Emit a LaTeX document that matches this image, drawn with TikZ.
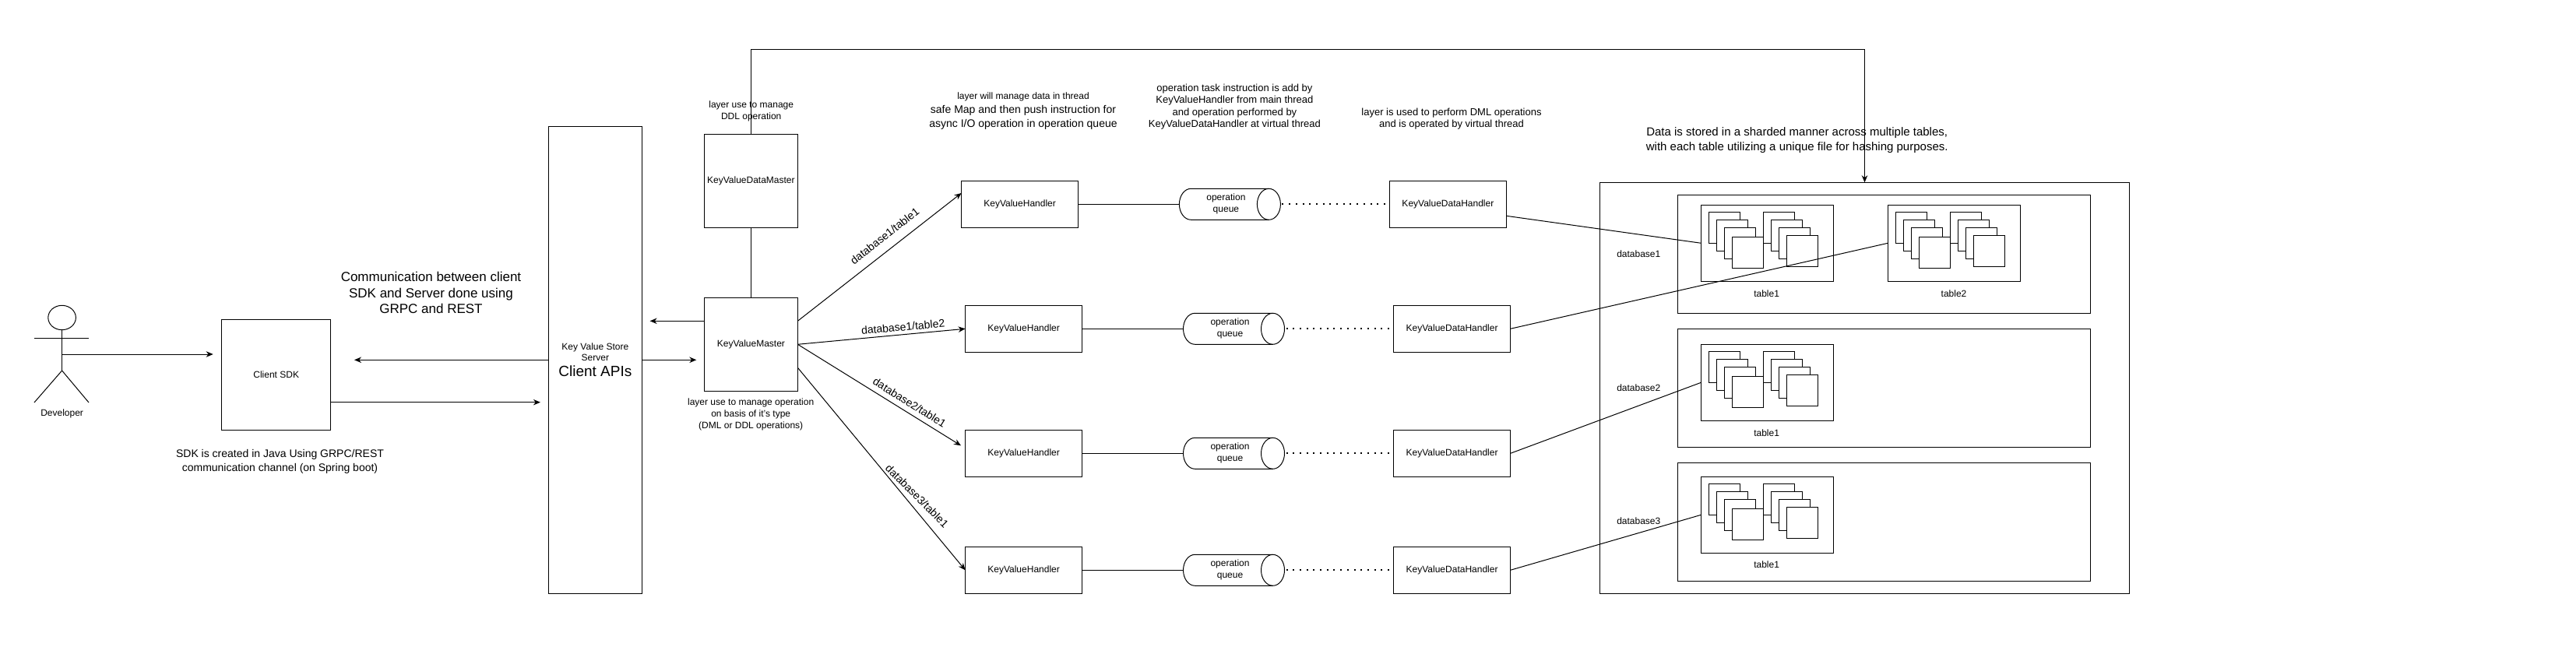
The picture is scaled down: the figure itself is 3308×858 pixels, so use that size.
\documentclass[tikz,border=0pt]{standalone}
\usepackage{fontspec}
\setmainfont{Liberation Sans}
\usetikzlibrary{arrows.meta}
\tikzset{
	  conn/.style={line width=1pt},
	  flow/.style={conn, -{Stealth[length=9pt,width=7.5pt]}},
	  dots/.style={line width=2pt, dash pattern=on 2pt off 6.7pt},
	  box/.style={draw, line width=1pt, fill=white, inner sep=0pt, outer sep=0pt, align=center, font=\fontsize{12}{14}\selectfont},
	  handlerbox/.style={box, minimum width=150pt, minimum height=60pt},
	  masterbox/.style={box, minimum width=120pt, minimum height=120pt},
	  dbbox/.style={box, minimum width=530pt, minimum height=152pt},
	  tablebox/.style={box, minimum width=170pt, minimum height=98pt},
	  filebox/.style={box, anchor=north west, minimum width=40pt, minimum height=40pt},
	  queue/.style={inner sep=0pt, outer sep=0pt, minimum width=130pt, minimum height=40pt},
	  capend/.style={x radius=15pt, y radius=20pt},
	  note/.style={inner sep=0pt, align=center, font=\fontsize{12}{15}\selectfont},
	  midnote/.style={inner sep=0pt, align=center, font=\fontsize{13}{15.6}\selectfont},
	  bignote/.style={inner sep=0pt, align=center, font=\fontsize{14}{18}\selectfont},
	  edgenote/.style={inner sep=0pt, font=\fontsize{14}{16}\selectfont}
}
\newcommand{\queueoutline}[1]{
	  \draw [conn] ([xshift=15pt]#1.north west)--([xshift=-15pt]#1.north east)
	    arc [start angle=90, end angle=-90, capend]
	    --([xshift=15pt]#1.south west)
	    arc [start angle=270, end angle=90, capend];
	  \draw [conn] ([xshift=-15pt]#1.north east) arc [start angle=90, end angle=270, capend];
}
\begin{document}
\begin{tikzpicture}[x=1pt,y=-1pt]
	  \useasboundingbox (0,0) rectangle (3308,858);

	  \draw [conn] (79.6,408) ellipse [x radius=17.8, y radius=15.7];
	  \draw [conn] (44,434)--(114,434);
	  \draw [conn] (79.6,424)--(79.6,476);
	  \draw [conn] (44,517)--(79.6,476)--(114,517);
	  \node [note] (developer) at (79.6,531) {Developer};
	  \coordinate (devarm) at (79.6,455);

	  \node [box, minimum width=140pt, minimum height=142pt] (clientsdk) at (354.7,481) {Client SDK};
	  \node [box, minimum width=120pt, minimum height=600pt] (clientapi) at (764.4,462.3)
	    {Key Value Store\\Server\\[6pt]{\fontsize{19}{22}\selectfont Client APIs}};
	  \node [masterbox] (datamaster) at (964.4,232.3) {KeyValueDataMaster};
	  \node [masterbox] (master) at (964.4,442.3) {KeyValueMaster};

	  \node [handlerbox] (handlerone) at (1309.6,262.3) {KeyValueHandler};
	  \node [handlerbox] (handlertwo) at (1314.6,422.3) {KeyValueHandler};
	  \node [handlerbox] (handlerthree) at (1314.6,582.3) {KeyValueHandler};
	  \node [handlerbox] (handlerfour) at (1314.6,732.3) {KeyValueHandler};

	  \node [queue] (queueone) at (1579.4,262.3) {};
	  \node [queue] (queuetwo) at (1584.5,422.3) {};
	  \node [queue] (queuethree) at (1584.5,582.3) {};
	  \node [queue] (queuefour) at (1584.5,732.3) {};
	  \queueoutline{queueone}
	  \queueoutline{queuetwo}
	  \queueoutline{queuethree}
	  \queueoutline{queuefour}
	  \node [note] (qtextone) at (1574.4,262.3) {operation\\queue};
	  \node [note] (qtexttwo) at (1579.5,422.3) {operation\\queue};
	  \node [note] (qtextthree) at (1579.5,582.3) {operation\\queue};
	  \node [note] (qtextfour) at (1579.5,732.3) {operation\\queue};

	  \node [handlerbox] (dataone) at (1859.4,262.3) {KeyValueDataHandler};
	  \node [handlerbox] (datatwo) at (1864.6,422.3) {KeyValueDataHandler};
	  \node [handlerbox] (datathree) at (1864.6,582.3) {KeyValueDataHandler};
	  \node [handlerbox] (datafour) at (1864.6,732.3) {KeyValueDataHandler};

	  \node [box, minimum width=680.5pt, minimum height=528pt] (store) at (2394.5,498.3) {};
	  \node [dbbox] (dbone) at (2419.5,326.3) {};
	  \node [dbbox] (dbtwo) at (2419.5,498.3) {};
	  \node [dbbox] (dbthree) at (2419.5,670.3) {};

	  \node [tablebox] (tableone) at (2269.5,312.3) {};
	  \node [tablebox] (tabletwo) at (2509.3,312.3) {};
	  \node [tablebox] (tablethree) at (2269.5,491.3) {};
	  \node [tablebox] (tablefour) at (2269.5,661.3) {};

	  \node [filebox] (fa1) at (2194.6,272.3) {};
	  \node [filebox] (fa2) at (2204.6,282.3) {};
	  \node [filebox] (fa3) at (2214.6,292.3) {};
	  \node [filebox] (fa4) at (2224.6,304.3) {};
	  \node [filebox] (fa5) at (2264.6,272.3) {};
	  \node [filebox] (fa6) at (2274.6,282.3) {};
	  \node [filebox] (fa7) at (2284.6,292.3) {};
	  \node [filebox] (fa8) at (2294.6,302.3) {};

	  \node [filebox] (fb1) at (2434.3,272.3) {};
	  \node [filebox] (fb2) at (2444.3,282.3) {};
	  \node [filebox] (fb3) at (2454.3,292.3) {};
	  \node [filebox] (fb4) at (2464.3,304.3) {};
	  \node [filebox] (fb5) at (2504.3,272.3) {};
	  \node [filebox] (fb6) at (2514.3,282.3) {};
	  \node [filebox] (fb7) at (2524.3,292.3) {};
	  \node [filebox] (fb8) at (2534.3,302.3) {};

	  \node [filebox] (fc1) at (2194.6,451.3) {};
	  \node [filebox] (fc2) at (2204.6,461.3) {};
	  \node [filebox] (fc3) at (2214.6,471.3) {};
	  \node [filebox] (fc4) at (2224.6,483.3) {};
	  \node [filebox] (fc5) at (2264.6,451.3) {};
	  \node [filebox] (fc6) at (2274.6,461.3) {};
	  \node [filebox] (fc7) at (2284.6,471.3) {};
	  \node [filebox] (fc8) at (2294.6,481.3) {};

	  \node [filebox] (fd1) at (2194.6,621.3) {};
	  \node [filebox] (fd2) at (2204.6,631.3) {};
	  \node [filebox] (fd3) at (2214.6,641.3) {};
	  \node [filebox] (fd4) at (2224.6,653.3) {};
	  \node [filebox] (fd5) at (2264.6,621.3) {};
	  \node [filebox] (fd6) at (2274.6,631.3) {};
	  \node [filebox] (fd7) at (2284.6,641.3) {};
	  \node [filebox] (fd8) at (2294.6,651.3) {};

	  \node [note] (dbnameone) at (2104.3,326) {database1};
	  \node [note] (dbnametwo) at (2104.3,498) {database2};
	  \node [note] (dbnamethree) at (2104.3,669.7) {database3};
	  \node [note] (tnameone) at (2268.6,377) {table1};
	  \node [note] (tnametwo) at (2509,377) {table2};
	  \node [note] (tnamethree) at (2268.6,556) {table1};
	  \node [note] (tnamefour) at (2268.6,725.3) {table1};

	  \node [inner sep=0pt, align=center, font=\fontsize{17}{20.3}\selectfont] (commtext) at (553.5,376)
	    {Communication between client\\SDK and Server done using\\GRPC and REST};
	  \node [bignote] (sdktext) at (359.5,593) {SDK is created in Java Using GRPC/REST\\communication channel (on Spring boot)};
	  \node [note] (ddltext) at (964.7,142.5) {layer use to manage\\DDL operation};
	  \node [note] (dmltext) at (964.2,532.5) {layer use to manage operation\\on basis of it's type\\(DML or DDL operations)};
	  \node [bignote] (threadtext) at (1314,142.5)
	    {{\fontsize{12}{15}\selectfont layer will manage data in thread}\\safe Map and then push instruction for\\async I/O operation in operation queue};
	  \node [midnote] (tasktext) at (1585.4,137.2)
	    {operation task instruction is add by\\KeyValueHandler from main thread\\and operation performed by\\KeyValueDataHandler at virtual thread};
	  \node [midnote] (virtualtext) at (1864,152.8) {layer is used to perform DML operations\\and is operated by virtual thread};
	  \node [inner sep=0pt, align=center, font=\fontsize{15}{18.3}\selectfont] (shardtext) at (2307.7,180.2)
	    {Data is stored in a sharded manner across multiple tables,\\with each table utilizing a unique file for hashing purposes.};

	  \node [edgenote, rotate=38] (edgeone) at (1136,303) {database1/table1};
	  \node [edgenote, rotate=5] (edgetwo) at (1159.6,420) {database1/table2};
	  \node [edgenote, rotate=-32] (edgethree) at (1168,517) {database2/table1};
	  \node [edgenote, rotate=-45] (edgefour) at (1177.7,637) {database3/table1};

	  \coordinate (topbend) at (2394.5,64);
	  \coordinate (sdkback) at (455,462.3);
	  \coordinate (apiback) at (834.6,412.3);
	  \coordinate (masterin) at (894.3,462.3);

	  \draw [flow] (devarm)--([xshift=-11pt,yshift=26pt]clientsdk.west);
	  \draw [flow] (clientapi.west)--(sdkback);
	  \draw [flow] ([yshift=-35.7pt]clientsdk.east)--([xshift=-10.5pt,yshift=-54.4pt]clientapi.west);
	  \draw [flow] ([yshift=30pt]master.west)--(apiback);
	  \draw [flow] (clientapi.east)--(masterin);

	  \draw [conn] (datamaster.south)--(master.north);
	  \draw [flow] (datamaster.north)|-(topbend)--(store.north);

	  \draw [flow] ([yshift=30pt]master.east)--([yshift=14.3pt]handlerone.west);
	  \draw [flow] (master.east)--(handlertwo.west);
	  \draw [flow] (master.east)--([xshift=-5.6pt,yshift=10pt]handlerthree.west);
	  \draw [flow] ([yshift=-30pt]master.east)--(handlerfour.west);

	  \draw [conn] (handlerone.east)--(queueone.west);
	  \draw [conn] (handlertwo.east)--(queuetwo.west);
	  \draw [conn] (handlerthree.east)--(queuethree.west);
	  \draw [conn] (handlerfour.east)--(queuefour.west);

	  \draw [dots] ([xshift=2pt]queueone.east)--(dataone.west);
	  \draw [dots] ([xshift=2pt]queuetwo.east)--(datatwo.west);
	  \draw [dots] ([xshift=2pt]queuethree.east)--(datathree.west);
	  \draw [dots] ([xshift=2pt]queuefour.east)--(datafour.west);

	  \draw [conn] ([yshift=-15pt]dataone.east)--(tableone.west);
	  \draw [conn] (datatwo.east)--(tabletwo.west);
	  \draw [conn] (datathree.east)--(tablethree.west);
	  \draw [conn] (datafour.east)--(tablefour.west);

\end{tikzpicture}
\end{document}
